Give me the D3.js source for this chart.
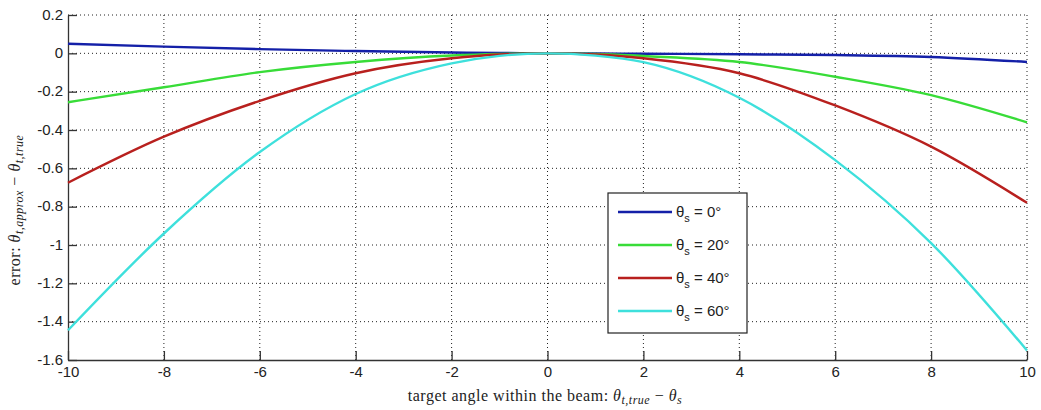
<!DOCTYPE html>
<html>
<head>
<style type="text/css">
  body{
    margin: 0;
    background: white;
  }
  .tick text{
    font-family: 'Liberation Sans', Arial, sans-serif;
    font-size: 15px;
    fill: #222;
  }
  .mathLabel{
    font-family: 'Liberation Serif', 'DejaVu Serif', serif;
    font-size: 16px;
    fill: #222;
  }
</style>
</head>
<body>

<script src="https://cdn.jsdelivr.net/npm/d3@7/dist/d3.min.js"></script>

<script>

var xs = [-10, -8, -6, -4, -2, -1, 0, 1, 2, 4, 6, 8, 10];

var err0  = [0.05, 0.035, 0.022, 0.012, 0.004, 0.002, 0, -0.001, -0.002, -0.005, -0.009, -0.019, -0.045];
var err20 = [-0.255, -0.177, -0.098, -0.045, -0.011, -0.003, 0, -0.003, -0.014, -0.045, -0.122, -0.218, -0.36];
var err40 = [-0.675, -0.435, -0.248, -0.104, -0.026, -0.006, 0, -0.006, -0.026, -0.104, -0.272, -0.487, -0.78];
var err60 = [-1.445, -0.94, -0.515, -0.212, -0.052, -0.013, 0, -0.012, -0.046, -0.232, -0.557, -0.99, -1.55];

var seriesNames = ['0°', '20°', '40°', '60°'];
var seriesValues = [err0, err20, err40, err60];
var seriesColors = ['#1420a8', '#38dc38', '#b8201e', '#3ee0dc'];

var xTicks = [-10, -8, -6, -4, -2, 0, 2, 4, 6, 8, 10];
var yTicks = [0.2, 0, -0.2, -0.4, -0.6, -0.8, -1, -1.2, -1.4, -1.6];

var width = 1041, height = 410;
var margin = {left: 68, right: 14, top: 15, bottom: 50};

var svg = d3.select('body').append('svg')
  .attr('width', width)
  .attr('height', height);

var x = d3.scaleLinear().domain([-10, 10]).range([margin.left, width - margin.right]);
var y = d3.scaleLinear().domain([-1.6, 0.2]).range([height - margin.bottom, margin.top]);

// dotted grid
svg.append('g')
  .selectAll('line')
  .data(xTicks.slice(1))
  .enter().append('line')
  .attr('x1', function(d) { return x(d); })
  .attr('x2', function(d) { return x(d); })
  .attr('y1', y(0.2))
  .attr('y2', y(-1.6))
  .attr('stroke', '#222')
  .attr('stroke-width', 1)
  .attr('stroke-dasharray', '1,3');

svg.append('g')
  .selectAll('line')
  .data(yTicks.slice(0, -1))
  .enter().append('line')
  .attr('x1', x(-10))
  .attr('x2', x(10))
  .attr('y1', function(d) { return y(d); })
  .attr('y2', function(d) { return y(d); })
  .attr('stroke', '#222')
  .attr('stroke-width', 1)
  .attr('stroke-dasharray', '1,3');

// axes
var xAxis = svg.append('g')
  .attr('transform', 'translate(0,' + y(-1.6) + ')')
  .call(d3.axisBottom(x).tickValues(xTicks).tickSizeInner(-9).tickSizeOuter(0).tickPadding(5)
    .tickFormat(function(d) { return d; }));

var yAxis = svg.append('g')
  .attr('transform', 'translate(' + x(-10) + ',0)')
  .call(d3.axisLeft(y).tickValues(yTicks).tickSizeInner(-9).tickSizeOuter(0).tickPadding(5)
    .tickFormat(function(d) { return d; }));

[xAxis, yAxis].forEach(function(a) {
  a.select('.domain').attr('stroke', '#333').attr('stroke-width', 1.3);
  a.selectAll('.tick line').attr('stroke', '#333').attr('stroke-width', 1.3);
});

xAxis.selectAll('.tick text').attr('dy', '0.8em');
yAxis.selectAll('.tick text').attr('dy', '0.28em');

// curves
var line = d3.line()
  .x(function(d, i) { return x(xs[i]); })
  .y(function(d) { return y(d); })
  .curve(d3.curveMonotoneX);

svg.append('g')
  .selectAll('path')
  .data(seriesValues)
  .enter().append('path')
  .attr('d', line)
  .attr('fill', 'none')
  .attr('stroke', function(d, i) { return seriesColors[i]; })
  .attr('stroke-width', 2.4);

// axis labels
var xl = svg.append('text')
  .attr('class', 'mathLabel')
  .attr('x', 545)
  .attr('y', 401)
  .attr('text-anchor', 'middle')
  .attr('letter-spacing', '0.5px');
xl.append('tspan').text('target angle within the beam:  ');
xl.append('tspan').attr('font-style', 'italic').text('θ');
xl.append('tspan').attr('font-style', 'italic').attr('font-size', '12px').attr('dy', 3).text('t,true');
xl.append('tspan').attr('dy', -3).text(' − ');
xl.append('tspan').attr('font-style', 'italic').text('θ');
xl.append('tspan').attr('font-style', 'italic').attr('font-size', '12px').attr('dy', 3).text('s');

var yl = svg.append('text')
  .attr('class', 'mathLabel')
  .attr('transform', 'translate(20,210) rotate(-90)')
  .attr('text-anchor', 'middle')
  .attr('letter-spacing', '0.5px');
yl.append('tspan').text('error:  ');
yl.append('tspan').attr('font-style', 'italic').text('θ');
yl.append('tspan').attr('font-style', 'italic').attr('font-size', '12px').attr('dy', 3).text('t,approx');
yl.append('tspan').attr('dy', -3).text(' − ');
yl.append('tspan').attr('font-style', 'italic').text('θ');
yl.append('tspan').attr('font-style', 'italic').attr('font-size', '12px').attr('dy', 3).text('t,true');

// legend
var legend = svg.append('g').attr('transform', 'translate(608,193)');

legend.append('rect')
  .attr('width', 139)
  .attr('height', 140)
  .attr('fill', 'white')
  .attr('stroke', '#222')
  .attr('stroke-width', 1.2);

var item = legend.selectAll('.item')
  .data(seriesNames)
  .enter().append('g')
  .attr('class', 'item')
  .attr('transform', function(d, i) { return 'translate(0,' + (19 + i * 33) + ')'; });

item.append('line')
  .attr('x1', 10)
  .attr('x2', 64)
  .attr('stroke', function(d, i) { return seriesColors[i]; })
  .attr('stroke-width', 2.4);

var lt = item.append('text')
  .attr('x', 68)
  .attr('y', 5)
  .attr('font-family', "'Liberation Sans', Arial, sans-serif")
  .attr('font-size', '15px')
  .attr('fill', '#222');
lt.append('tspan').text('θ');
lt.append('tspan').attr('font-size', '11px').attr('dy', 5).text('s');
lt.append('tspan').attr('dy', -5).text(function(d) { return ' = ' + d; });

</script>

</body>
</html>
